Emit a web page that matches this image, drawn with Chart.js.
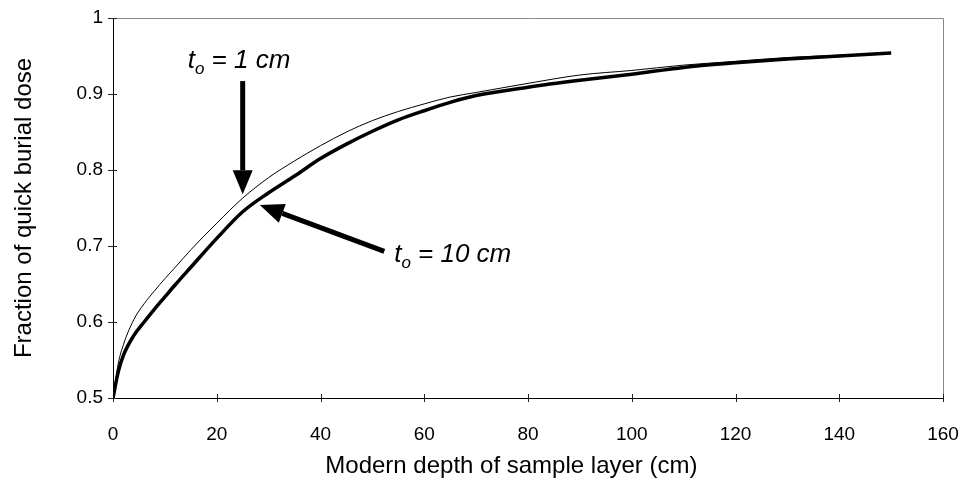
<!DOCTYPE html>
<html>
<head>
<meta charset="utf-8">
<script src="https://cdn.jsdelivr.net/npm/chart.js@4/dist/chart.umd.min.js"></script>
<style>
  html, body { margin: 0; padding: 0; background: #fff; }
</style>
</head>
<body>
<canvas id="doseChart" width="961" height="484"></canvas>
<script>
// depth of the sample layer today (cm)
var depths = [0, 1, 2, 4, 6, 8, 10, 12, 15, 20, 25, 30, 35, 40, 45, 50, 55, 60, 65, 70, 80, 90, 100, 110, 120, 130, 140, 150];

// fraction of the quick burial dose, initial thickness t0 = 1 cm
var doseT1 = [0.5, 0.545, 0.57, 0.603, 0.624, 0.641, 0.657, 0.672, 0.695, 0.73, 0.763, 0.79, 0.812, 0.832, 0.85, 0.865, 0.877, 0.887, 0.896, 0.902, 0.914, 0.925, 0.931, 0.938, 0.943, 0.948, 0.951, 0.954];

// same, t0 = 10 cm
var doseT10 = [0.5, 0.534, 0.556, 0.582, 0.6, 0.617, 0.633, 0.649, 0.672, 0.71, 0.745, 0.77, 0.792, 0.815, 0.834, 0.851, 0.866, 0.878, 0.889, 0.898, 0.909, 0.918, 0.926, 0.935, 0.941, 0.946, 0.95, 0.954];

var xTicks = [0, 20, 40, 60, 80, 100, 120, 140, 160];
var yTicks = [0.5, 0.6, 0.7, 0.8, 0.9, 1];

// labels with arrows, in data units
var notes = [
  { value: '1 cm', text: [14.4, 0.934], tail: [25, 0.917], tip: [25, 0.768] },
  { value: '10 cm', text: [54.2, 0.679], tail: [52.3, 0.693], tip: [28.3, 0.754] }
];

function toPoints(ys) {
  return depths.map(function (d, i) { return { x: d, y: ys[i] }; });
}

var FONT = "'Liberation Sans', Arial, sans-serif";

// top/right frame and the little ticks crossing the axes
var frame = {
  id: 'frame',
  beforeDatasetsDraw: function (chart) {
    var ctx = chart.ctx, a = chart.chartArea;
    var sx = chart.scales.x, sy = chart.scales.y;
    ctx.save();
    ctx.strokeStyle = '#8a8a8a';
    ctx.lineWidth = 1;
    ctx.beginPath();
    ctx.moveTo(a.left, a.top + 0.5);
    ctx.lineTo(a.right + 0.5, a.top + 0.5);
    ctx.lineTo(a.right + 0.5, a.bottom);
    ctx.stroke();
    ctx.strokeStyle = '#222';
    ctx.beginPath();
    xTicks.forEach(function (v) {
      var px = Math.round(sx.getPixelForValue(v)) + 0.5;
      ctx.moveTo(px, a.bottom - 4);
      ctx.lineTo(px, a.bottom + 4);
    });
    yTicks.forEach(function (v) {
      var py = Math.round(sy.getPixelForValue(v)) + 0.5;
      ctx.moveTo(a.left - 5, py);
      ctx.lineTo(a.left + 4, py);
    });
    ctx.stroke();

    // x axis title, sits a little left of the plot centre
    ctx.fillStyle = '#000';
    ctx.font = '24px ' + FONT;
    ctx.textAlign = 'center';
    ctx.textBaseline = 'middle';
    ctx.fillText('Modern depth of sample layer (cm)', a.left + 0.48 * (a.right - a.left), 466);
    ctx.restore();
  }
};

function arrow(ctx, x1, y1, x2, y2) {
  var ang = Math.atan2(y2 - y1, x2 - x1);
  var head = 24, half = 10;
  var bx = x2 - head * Math.cos(ang), by = y2 - head * Math.sin(ang);
  ctx.lineWidth = 5;
  ctx.beginPath();
  ctx.moveTo(x1, y1);
  ctx.lineTo(bx, by);
  ctx.stroke();
  ctx.beginPath();
  ctx.moveTo(x2, y2);
  ctx.lineTo(bx + half * Math.sin(ang), by - half * Math.cos(ang));
  ctx.lineTo(bx - half * Math.sin(ang), by + half * Math.cos(ang));
  ctx.closePath();
  ctx.fill();
}

var labels = {
  id: 'labels',
  afterDatasetsDraw: function (chart) {
    var ctx = chart.ctx;
    var sx = chart.scales.x, sy = chart.scales.y;
    ctx.save();
    ctx.fillStyle = '#000';
    ctx.strokeStyle = '#000';
    notes.forEach(function (n) {
      var x = sx.getPixelForValue(n.text[0]);
      var y = sy.getPixelForValue(n.text[1]);
      ctx.textBaseline = 'alphabetic';
      ctx.textAlign = 'left';
      ctx.font = 'italic 26px ' + FONT;
      ctx.fillText('t', x, y);
      x += ctx.measureText('t').width;
      ctx.font = 'italic 17px ' + FONT;
      ctx.fillText('o', x, y + 6);
      x += ctx.measureText('o').width;
      ctx.font = 'italic 26px ' + FONT;
      ctx.fillText(' = ' + n.value, x, y);
      arrow(ctx, sx.getPixelForValue(n.tail[0]), sy.getPixelForValue(n.tail[1]),
        sx.getPixelForValue(n.tip[0]), sy.getPixelForValue(n.tip[1]));
    });
    ctx.restore();
  }
};

var chart = new Chart(document.getElementById('doseChart'), {
  type: 'line',
  data: {
    datasets: [
      {
        label: 't0 = 1 cm',
        data: toPoints(doseT1),
        borderColor: '#000',
        borderWidth: 1,
        pointRadius: 0,
        cubicInterpolationMode: 'monotone'
      },
      {
        label: 't0 = 10 cm',
        data: toPoints(doseT10),
        borderColor: '#000',
        borderWidth: 3.5,
        pointRadius: 0,
        cubicInterpolationMode: 'monotone'
      }
    ]
  },
  options: {
    responsive: false,
    animation: false,
    layout: { padding: { left: 0, top: 18, right: 18, bottom: 0 } },
    plugins: {
      legend: { display: false },
      tooltip: { enabled: false }
    },
    scales: {
      x: {
        type: 'linear',
        min: 0,
        max: 160,
        afterFit: function (s) { s.height = 86; s.paddingLeft = 0; s.paddingRight = 0; },
        afterBuildTicks: function (s) { s.ticks = xTicks.map(function (v) { return { value: v }; }); },
        grid: { display: false, drawTicks: false },
        border: { color: '#000', width: 1 },
        ticks: { color: '#000', padding: 25, maxRotation: 0, font: { family: FONT, size: 19 } },
        title: { display: false }
      },
      y: {
        min: 0.5,
        max: 1,
        afterFit: function (s) { s.width = 113; s.paddingTop = 0; s.paddingBottom = 0; },
        afterBuildTicks: function (s) { s.ticks = yTicks.map(function (v) { return { value: v }; }); },
        grid: { display: false, drawTicks: false },
        border: { color: '#000', width: 1 },
        ticks: {
          color: '#000',
          padding: 10,
          font: { family: FONT, size: 19 },
          callback: function (v) { return String(Number(v.toFixed(2))); }
        },
        title: {
          display: true,
          text: 'Fraction of quick burial dose',
          color: '#000',
          font: { family: FONT, size: 24 },
          padding: { top: 10, bottom: 0 }
        }
      }
    }
  },
  plugins: [frame, labels]
});
</script>
</body>
</html>
